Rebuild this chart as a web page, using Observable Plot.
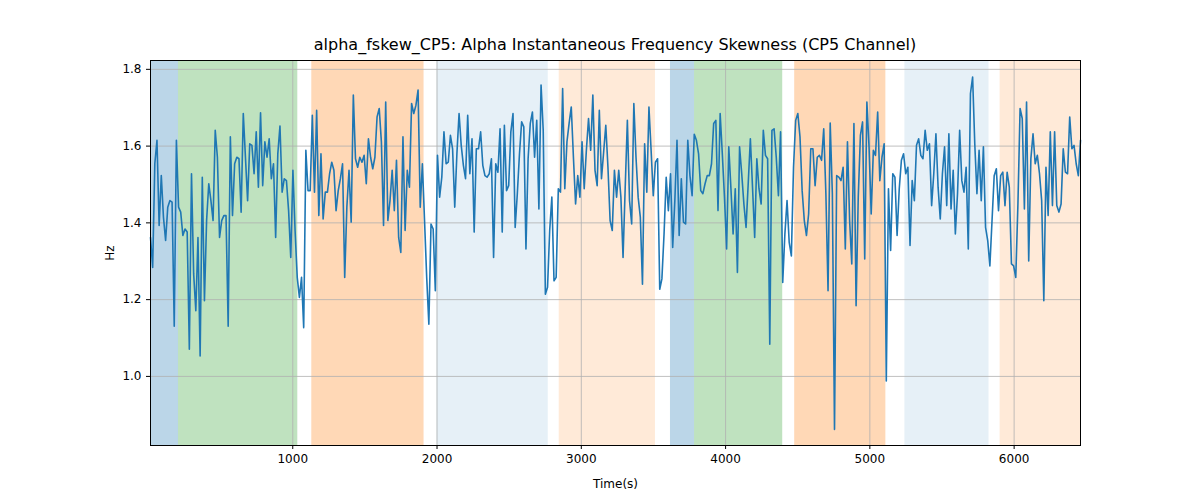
<!DOCTYPE html>
<html>
<head>
<meta charset="utf-8">
<script src="https://cdn.jsdelivr.net/npm/d3@7"></script>
<script src="https://cdn.jsdelivr.net/npm/@observablehq/plot@0.6"></script>
<style>
  body { margin: 0; background: white; font-family: "DejaVu Sans", sans-serif; }
  #wrap { position: relative; width: 1200px; height: 500px; }
  #title { position: absolute; top: 35px; left: 150px; width: 930px; text-align: center; font-size: 16px; color: #000; }
</style>
</head>
<body>
<div id="wrap">
  <div id="title">alpha_fskew_CP5: Alpha Instantaneous Frequency Skewness (CP5 Channel)</div>
  <div id="chart"></div>
</div>
<script>
const T_START = 14;
const T_END = 6460;
const X_TICKS = [1000, 2000, 3000, 4000, 5000, 6000];
const Y_TICKS = [1.0, 1.2, 1.4, 1.6, 1.8];

const VALUES = [
  1.362,1.284,1.554,1.615,1.393,1.523,1.415,1.354,1.441,1.458,1.454,1.131,1.615,1.441,1.428,1.367,1.384,1.376,1.071,1.528,
  1.267,1.171,1.362,1.053,1.519,1.197,1.406,1.502,1.458,1.406,1.641,1.571,1.362,1.406,1.419,1.419,1.131,1.624,1.419,1.554,
  1.571,1.567,1.428,1.685,1.571,1.458,1.606,1.602,1.528,1.637,1.493,1.687,1.497,1.611,1.571,1.619,1.515,1.554,1.362,1.580,
  1.652,1.480,1.515,1.510,1.432,1.310,1.537,1.380,1.258,1.206,1.258,1.127,1.589,1.484,1.484,1.680,1.480,1.693,1.419,1.580,
  1.410,1.480,1.480,1.528,1.558,1.537,1.432,1.484,1.515,1.554,1.258,1.441,1.537,1.402,1.733,1.567,1.545,1.571,1.558,1.576,
  1.502,1.619,1.571,1.541,1.571,1.676,1.698,1.611,1.393,
  1.715,1.406,1.458,1.537,1.432,1.563,1.362,1.323,1.624,1.380,1.537,1.493,1.711,1.685,1.706,1.746,1.441,1.554,1.406,1.258,
  1.136,1.397,1.384,1.223,1.576,1.467,1.519,1.637,1.554,1.558,1.628,1.593,1.441,1.580,1.685,1.602,1.550,1.515,1.680,1.528,
  1.619,1.376,1.593,1.593,1.637,1.550,1.523,1.519,1.528,1.567,1.310,1.554,1.532,1.645,1.376,1.654,1.484,1.497,1.637,1.685,
  1.388,1.476,1.580,1.663,1.650,1.332,1.567,1.659,1.689,1.571,1.667,1.436,1.759,1.641,1.214,1.232,1.380,1.467,1.249,1.258,
  1.489,1.480,1.750,1.489,1.611,1.659,1.702,1.571,1.449,1.523,1.467,1.611,1.489,1.589,1.672,1.589,1.733,1.537,1.497,1.693,
  1.515,1.584,1.654,1.545,1.406,1.380,1.537,1.467,1.537,
  1.467,1.310,1.493,1.667,1.458,1.397,1.711,1.571,1.467,1.415,1.240,1.606,1.480,1.702,1.589,1.471,1.558,1.567,1.227,1.254,
  1.371,1.519,1.432,1.528,1.336,1.458,1.615,1.367,1.515,1.402,1.397,1.615,1.523,1.471,1.631,1.615,1.580,1.484,1.476,1.502,
  1.523,1.523,1.554,1.659,1.667,1.432,1.685,1.580,1.467,1.332,1.598,1.489,1.371,1.489,1.271,1.598,1.528,1.449,1.388,1.502,
  1.619,1.493,1.362,1.567,1.489,1.449,1.641,1.576,1.567,1.084,1.641,1.645,1.571,1.471,1.637,1.245,1.371,1.458,1.349,1.314,
  1.545,1.667,1.685,1.624,1.484,1.406,1.367,1.423,1.593,1.593,1.497,1.571,1.576,1.563,1.645,1.476,1.223,1.660,1.476,0.862,
  1.523,1.519,1.510,1.545,1.332,1.611,1.406,1.293,1.659,1.184,
  1.467,1.628,1.663,1.306,1.715,1.598,1.423,1.589,1.576,1.689,1.510,1.571,1.606,0.988,1.489,1.328,1.528,1.519,1.367,1.489,
  1.563,1.580,1.528,1.545,1.341,1.510,1.458,1.602,1.619,1.576,1.567,1.641,1.589,1.606,1.445,1.528,1.632,1.493,1.410,1.528,
  1.598,1.445,1.632,1.436,1.537,1.371,1.476,1.641,1.510,1.480,1.545,1.332,1.737,1.780,1.606,1.476,1.589,1.458,1.598,1.388,
  1.354,1.288,1.406,1.523,1.541,1.432,1.523,1.532,1.445,1.532,1.493,1.293,1.288,1.258,1.449,1.698,1.672,1.436,1.715,1.301,
  1.567,1.632,1.554,1.576,1.528,1.458,1.197,1.545,1.419,1.637,1.445,1.637,1.445,1.428,1.449,1.593,1.532,1.528,1.676,1.593,
  1.602,1.554,1.523,1.615
];

const BAND_START = [14, 208, 1132, 2000, 2847, 3618, 3785, 4479, 5243, 5903];
const BAND_END   = [208, 1035, 1910, 2771, 3514, 3785, 4396, 5111, 5826, 6460];
const BAND_COLOR = ["#1f77b4","#2ca02c","#ff7f0e","#1f77b4","#ff7f0e","#1f77b4","#2ca02c","#ff7f0e","#1f77b4","#ff7f0e"];
const BAND_ALPHA = [0.3, 0.3, 0.3, 0.11, 0.16, 0.3, 0.3, 0.3, 0.11, 0.16];

const step = (T_END - T_START) / (VALUES.length - 1);
const series = VALUES.map((v, i) => ({ t: T_START + i * step, v }));
const bands = BAND_START.map((s, i) => ({ x1: s, x2: BAND_END[i], c: BAND_COLOR[i], a: BAND_ALPHA[i] }));

const plot = Plot.plot({
  width: 1200,
  height: 500,
  marginTop: 60,
  marginBottom: 55,
  marginLeft: 150,
  marginRight: 120,
  style: { fontFamily: '"DejaVu Sans", sans-serif', fontSize: "12px", color: "#000", background: "white" },
  x: { domain: [T_START, T_END], ticks: X_TICKS, tickFormat: d => String(d), label: "Time(s)", labelAnchor: "center", labelArrow: "none", labelOffset: 42, tickSize: 4 },
  y: { domain: [0.82, 1.823], ticks: Y_TICKS, tickFormat: d => d.toFixed(1), label: "Hz", labelAnchor: "center", labelArrow: "none", labelOffset: 45, tickSize: 4 },
  marks: [
    Plot.rect(bands, { x1: "x1", x2: "x2", fill: "c", fillOpacity: "a" }),
    Plot.gridX(X_TICKS, { stroke: "#b0b0b0", strokeOpacity: 1, strokeWidth: 0.8 }),
    Plot.gridY(Y_TICKS, { stroke: "#b0b0b0", strokeOpacity: 1, strokeWidth: 0.8 }),
    Plot.line(series, { x: "t", y: "v", stroke: "#1f77b4", strokeWidth: 1.6 }),
    Plot.frame({ stroke: "#000", strokeWidth: 1 })
  ]
});
document.getElementById("chart").append(plot);
</script>
</body>
</html>
